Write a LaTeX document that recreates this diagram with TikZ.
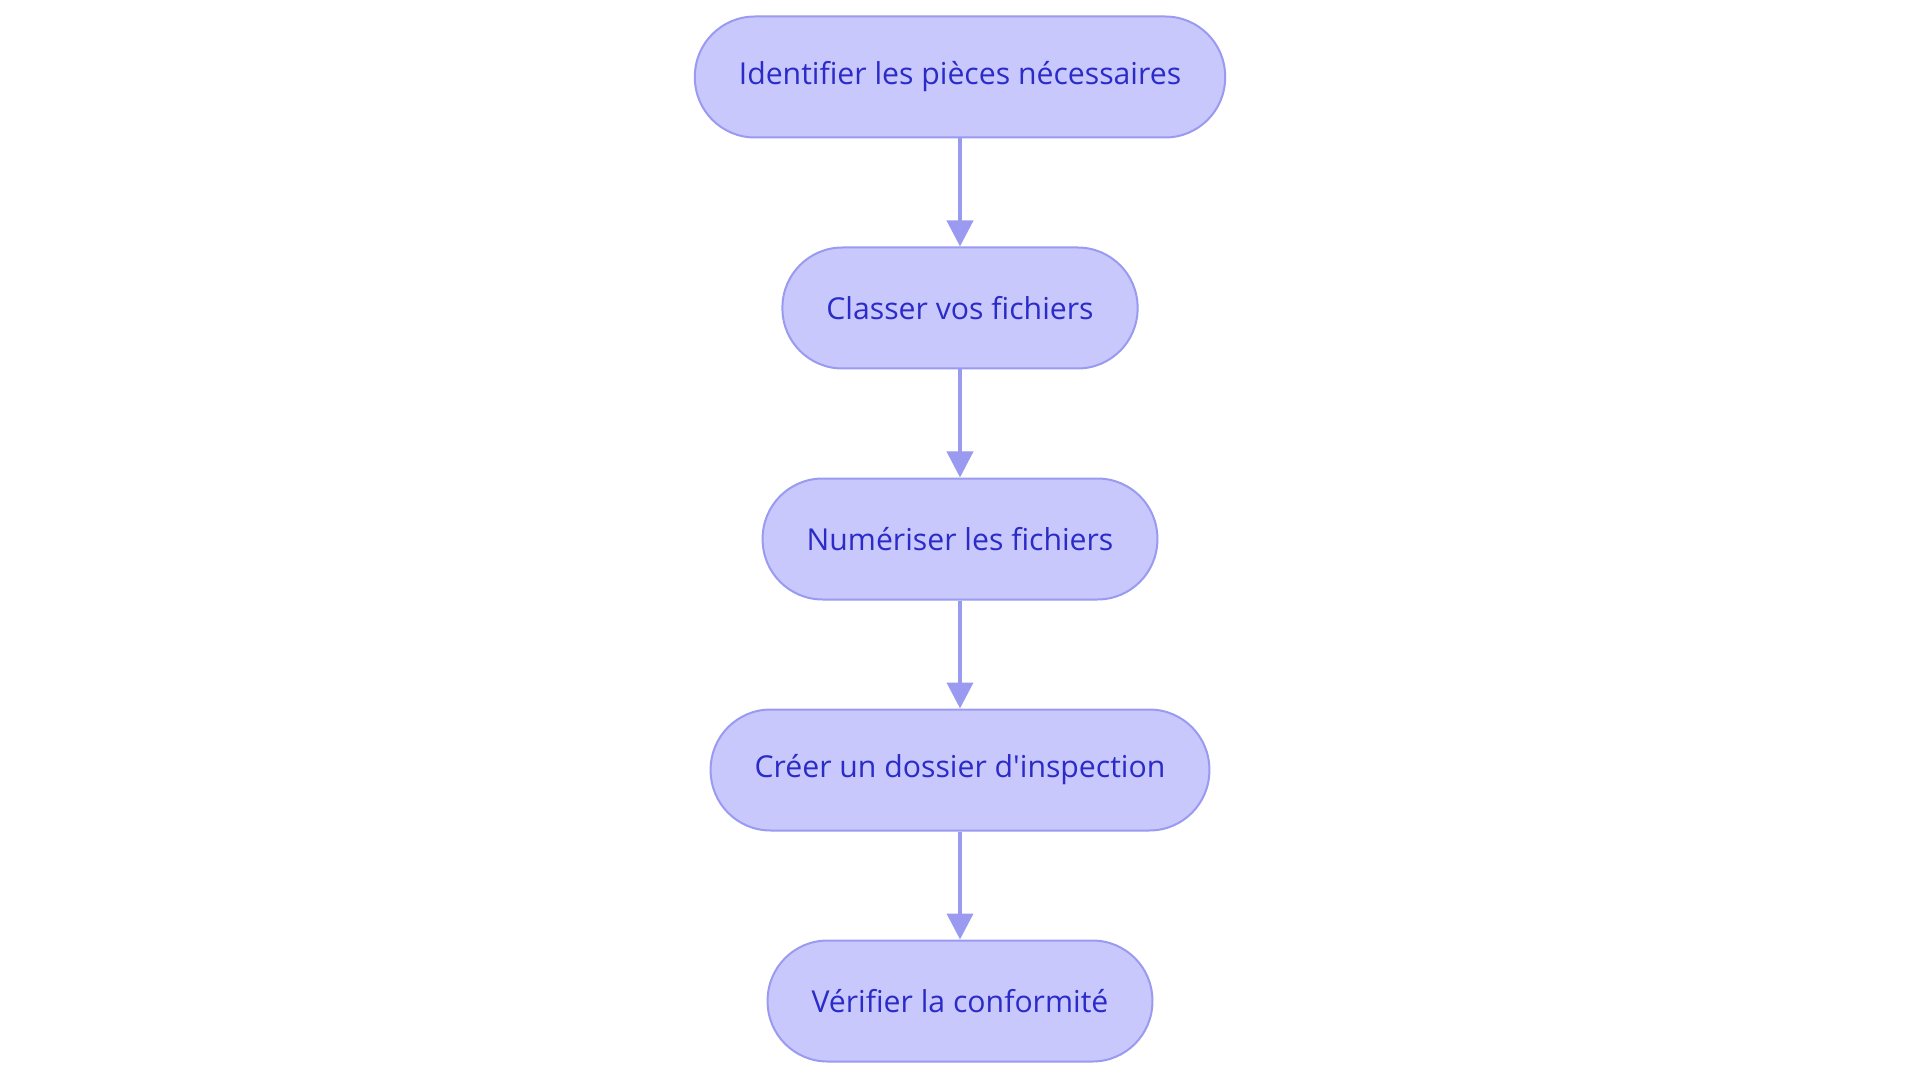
\documentclass[tikz,border=0pt]{standalone}
\usepackage{fontspec}
\setmainfont{Open Sans}
\usetikzlibrary{positioning}
\usetikzlibrary{arrows.meta}
\definecolor{boxfill}{HTML}{C8C8FC}
\definecolor{boxline}{HTML}{9A9AF0}
\definecolor{boxtext}{HTML}{2B2BC8}
\newdimen\FLOWspacing
\FLOWspacing=115.5pt

\begin{document}
\begin{tikzpicture}
    [
    node distance=\FLOWspacing and \FLOWspacing,
    on grid,
    every stepbox/.style={fill=boxfill, draw=boxline, line width=1pt},
    stepbox/.style={every stepbox, rectangle, rounded corners=30pt, minimum height=60.5pt, inner xsep=22pt, text=boxtext, font=\fontsize{15.1pt}{18pt}\selectfont},
    flow/.style={draw=boxline, line width=2pt, -{Triangle[width=13pt, length=13pt]}},
    ]

    \useasboundingbox (0,0) rectangle (960pt,541.5pt);

    \node[stepbox] (step_identify) at (480pt,503pt)
    {Identifier les pièces nécessaires};

    \node[stepbox, below = of step_identify] (step_sort)
    {Classer vos fichiers};

    \node[stepbox, below = of step_sort] (step_scan)
    {Numériser les fichiers};

    \node[stepbox, below = of step_scan] (step_file)
    {Créer un dossier d\textquotesingle inspection};

    \node[stepbox, below = of step_file] (step_check)
    {Vérifier la conformité};

    \draw[flow] (step_identify) -- (step_sort);
    \draw[flow] (step_sort) -- (step_scan);
    \draw[flow] (step_scan) -- (step_file);
    \draw[flow] (step_file) -- (step_check);
\end{tikzpicture}
\end{document}
